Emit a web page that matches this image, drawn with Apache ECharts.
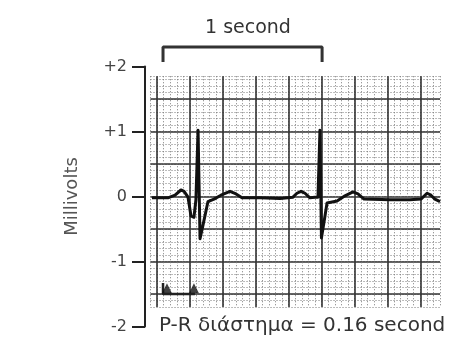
<!DOCTYPE html>
<html>
<head>
<meta charset="utf-8">
<script src="https://cdn.jsdelivr.net/npm/echarts@6/dist/echarts.min.js"></script>
<style>html,body{margin:0;padding:0;background:#fff}#c{width:453px;height:341px}</style>
</head>
<body>
<div id="c"></div>
<script>
// ECG trace: time (s) and voltage (mV)
const timeS = [-0.231,-0.134,-0.091,-0.055,-0.036,-0.012,0.0,0.006,0.024,0.036,0.049,0.061,0.079,0.109,0.146,0.188,0.243,0.280,0.316,0.426,0.547,0.626,0.650,0.675,0.699,0.729,0.760,0.778,0.790,0.799,0.815,0.833,0.894,0.942,0.991,1.021,1.058,1.216,1.337,1.404,1.441,1.465,1.489,1.520];
const mv    = [-0.02,-0.02,0.02,0.10,0.08,-0.01,-0.02,-0.30,-0.32,-0.05,1.02,-0.65,-0.44,-0.08,-0.04,0.02,0.08,0.04,-0.02,-0.02,-0.03,-0.01,0.05,0.08,0.05,-0.02,-0.01,-0.01,1.02,-0.64,-0.39,-0.10,-0.07,0.01,0.07,0.04,-0.04,-0.05,-0.05,-0.04,0.05,0.02,-0.04,-0.08];
// y axis tick labels (mV)
const yTicks = [-2,-1,0,1,2];
const yTickLabels = ['-2','-1','0','+1','+2'];
// "1 second" bracket (time s, mV)
const secBracketT = [-0.164,-0.164,0.803,0.803];
const secBracketV = [2.07,2.30,2.30,2.07];
// P and R markers for the P-R interval
const prMarkT = [-0.14,0.024];
const prMarkV = [-1.41,-1.41];
const prLineT = [-0.164,-0.164,0.03];
const prLineV = [-1.33,-1.5,-1.5];

// paper geometry in data units
const paperT = [-0.24, 1.52];   // minor every 0.04 s
const paperV = [-1.7, 1.85];    // minor every 0.1 mV
const majorT = [-0.2, 1.4];     // major every 0.2 s
const majorV = [-1.5, 1.5];     // major every 0.5 mV

const pxPerS = 164.5, pxPerMv = 65, x0 = 190, y0 = 196.5;
const px = t => x0 + t * pxPerS;
const py = v => y0 - v * pxPerMv;

const zip = (a,b)=>a.map((v,i)=>[v,b[i]]);
const chart = echarts.init(document.getElementById('c'), null, {renderer:'canvas'});
const font = 'DejaVu Sans';
const hidden = {axisLine:{show:false}, axisTick:{show:false}, axisLabel:{show:false}};
const minorLine = {show:true, lineStyle:{color:'#7a7a7a', type:[1,2], width:1}};
const majorLine = {show:true, lineStyle:{color:'#333', width:1.6}};
chart.setOption({
  animation:false,
  backgroundColor:'#fff',
  grid:[
    {left:145, top:py(2), width:5, height:py(-2)-py(2), outerBoundsMode:'none'},
    {left:px(paperT[0]), top:py(paperV[1]), width:px(paperT[1])-px(paperT[0]), height:py(paperV[0])-py(paperV[1]), outerBoundsMode:'none'},
    {left:px(majorT[0]), top:py(paperV[1]), width:px(majorT[1])-px(majorT[0]), height:py(paperV[0])-py(paperV[1]), outerBoundsMode:'none'},
    {left:px(paperT[0]), top:py(majorV[1]), width:px(paperT[1])-px(paperT[0]), height:py(majorV[0])-py(majorV[1]), outerBoundsMode:'none'}
  ],
  xAxis:[
    {gridIndex:0, type:'value', min:0, max:1, show:false},
    Object.assign({gridIndex:1, type:'value', min:paperT[0], max:paperT[1], interval:0.04, splitLine:minorLine}, hidden),
    Object.assign({gridIndex:2, type:'value', min:majorT[0], max:majorT[1], interval:0.2, splitLine:majorLine}, hidden),
    {gridIndex:3, type:'value', min:0, max:1, show:false, splitLine:{show:false}}
  ],
  yAxis:[
    {gridIndex:0, type:'value', min:-2, max:2, interval:1, position:'left',
     name:'Millivolts', nameLocation:'middle', nameGap:64,
     nameTextStyle:{fontFamily:font, fontSize:18, color:'#555'},
     axisLine:{show:true, lineStyle:{color:'#222', width:2}},
     axisTick:{show:true, inside:false, length:13, lineStyle:{color:'#222', width:2}},
     axisLabel:{show:true, margin:18, fontFamily:font, fontSize:16, color:'#444',
       formatter:v=>yTickLabels[yTicks.indexOf(v)]},
     splitLine:{show:false}},
    Object.assign({gridIndex:1, type:'value', min:paperV[0], max:paperV[1], interval:0.1, splitLine:minorLine}, hidden),
    {gridIndex:2, type:'value', min:0, max:1, show:false, splitLine:{show:false}},
    Object.assign({gridIndex:3, type:'value', min:majorV[0], max:majorV[1], interval:0.5, splitLine:majorLine}, hidden)
  ],
  series:[
    {type:'line', xAxisIndex:1, yAxisIndex:1, data:zip(timeS,mv), symbol:'none', smooth:false,
     lineStyle:{color:'#111', width:3, join:'round'}, z:5},
    {type:'line', xAxisIndex:1, yAxisIndex:1, data:zip(secBracketT,secBracketV), symbol:'none', clip:false,
     lineStyle:{color:'#333', width:3}, z:5},
    {type:'line', xAxisIndex:1, yAxisIndex:1, data:zip(prLineT,prLineV), symbol:'none', clip:false,
     lineStyle:{color:'#222', width:2.5}, z:5},
    {type:'scatter', xAxisIndex:1, yAxisIndex:1, data:zip(prMarkT,prMarkV), symbol:'triangle', symbolSize:[10,10],
     itemStyle:{color:'#111'}, clip:false, z:6}
  ],
  graphic:[
    {type:'text', left:205, top:19, style:{text:'1 second', font:'19px "DejaVu Sans"', fill:'#333'}},
    {type:'text', left:159, top:316, style:{text:'P-R διάστημα = 0.16 second', font:'20px "DejaVu Sans"', fill:'#333'}}
  ]
});
</script>
</body>
</html>
